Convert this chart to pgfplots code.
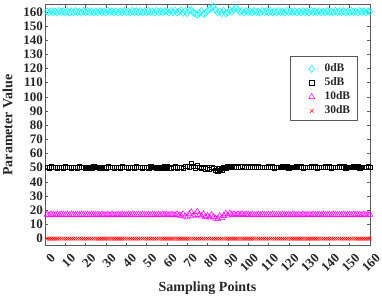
\documentclass[border=0pt]{standalone}
\usepackage{fontspec}
\setmainfont{Liberation Serif}
\usepackage{pgfplots}
\usepackage{pgfplotstable}
\pgfplotsset{compat=1.18}
\definecolor{mcyan}{rgb}{0,1,1}
\definecolor{mmag}{rgb}{1,0,1}
\definecolor{mred}{rgb}{1,0,0}
\pgfplotsset{onemark/.style={legend image code/.code={%
    \path (0cm,-0.1cm) (0.6cm,0.1cm);
    \draw[##1] plot coordinates {(0.3cm,0cm)};}}}
\pgfplotstableread{
x c0 c5 c10 c30
1 160.2 50.4 16.9 0
2 159.6 50.1 16.6 0
3 160.5 50.6 17.1 0
4 159.8 50.3 16.8 0
5 160.1 50.5 16.7 0
6 159.4 50.0 16.9 0
7 160.6 50.4 16.6 0
8 159.9 50.4 17.1 0
9 160.3 50.1 16.8 0
10 159.7 50.6 16.7 0
11 160.4 50.3 16.9 0
12 159.5 50.5 16.6 0
13 160.2 50.0 17.1 0
14 159.6 50.4 16.8 0
15 160.5 50.4 16.7 0
16 159.8 50.1 16.9 0
17 160.1 50.6 16.6 0
18 159.4 50.3 17.1 0
19 160.6 50.5 16.8 0
20 159.9 50.0 16.7 0
21 160.3 50.4 16.9 0
22 159.7 50.4 16.6 0
23 160.4 50.1 17.1 0
24 159.5 50.6 16.8 0
25 160.2 50.3 16.7 0
26 159.6 50.5 16.9 0
27 160.5 50.0 16.6 0
28 159.8 50.4 17.1 0
29 160.1 50.4 16.8 0
30 159.4 50.1 16.7 0
31 160.6 50.6 16.9 0
32 159.9 50.3 16.6 0
33 160.3 50.5 17.1 0
34 159.7 50.0 16.8 0
35 160.4 50.4 16.7 0
36 159.5 50.4 16.9 0
37 160.2 50.1 16.6 0
38 159.6 50.6 17.1 0
39 160.5 50.3 16.8 0
40 159.8 50.5 16.7 0
41 160.1 50.0 16.9 0
42 159.4 50.4 16.6 0
43 160.6 50.4 17.1 0
44 159.9 50.1 16.8 0
45 160.3 50.6 16.7 0
46 159.7 50.3 16.9 0
47 160.4 50.5 16.6 0
48 159.5 50.0 17.1 0
49 160.2 50.4 16.8 0
50 159.6 50.4 16.7 0
51 160.5 50.1 16.9 0
52 159.8 50.6 16.6 0
53 160.1 50.3 17.1 0
54 159.4 50.5 16.8 0
55 160.6 50.0 16.7 0
56 159.9 50.4 16.9 0
57 160.3 50.4 16.6 0
58 159.7 50.1 17.1 0
59 160.4 50.6 16.8 0
60 160.3 50.6 16.9 0
61 159.4 50.1 16.7 0
62 160.6 49.8 17.0 0
63 159.7 50.4 16.8 0
64 160.8 50.7 16.6 0
65 159.5 49.9 17.1 0
66 160.2 50.2 16.5 0
67 161.0 50.5 16.3 0
68 159.3 49.8 17.2 0
69 160.4 50.9 15.6 0
70 159.2 51.2 15.1 0
71 160.9 50.6 17.4 0
72 161.3 53.2 18.6 0
73 159.6 51.0 16.2 0
74 158.7 50.1 17.0 0
75 157.9 51.4 18.9 0
76 159.1 50.3 16.8 0
77 160.4 49.6 15.9 0
78 158.2 50.2 17.3 0
79 159.0 49.3 15.4 0
80 160.6 49.9 16.1 0
81 161.8 48.9 14.9 0
82 162.6 50.4 16.6 0
83 163.6 49.6 15.3 0
84 161.2 48.1 14.2 0
85 159.5 47.8 13.9 0
86 160.3 49.2 15.8 0
87 159.1 48.6 14.6 0
88 160.7 50.1 16.3 0
89 158.9 49.5 17.6 0
90 159.6 50.6 16.4 0
91 161.0 50.2 17.8 0
92 160.2 50.8 16.9 0
93 161.5 50.4 17.2 0
94 162.6 50.7 16.7 0
95 161.4 50.3 17.1 0
96 159.8 50.6 16.9 0
97 160.6 50.9 17.3 0
98 159.4 50.5 16.8 0
99 160.5 50.7 17.0 0
100 159.9 50.4 16.9 0
101 160.2 50.6 16.6 0
102 159.6 50.3 17.1 0
103 160.5 50.7 16.8 0
104 159.8 50.4 16.7 0
105 160.1 50.6 16.9 0
106 159.4 50.2 16.6 0
107 160.6 50.5 17.1 0
108 159.9 50.5 16.8 0
109 160.3 50.2 16.7 0
110 159.7 50.7 16.9 0
111 160.4 50.4 16.6 0
112 159.5 50.6 17.1 0
113 160.2 50.1 16.8 0
114 159.6 50.5 16.7 0
115 160.5 50.5 16.9 0
116 159.8 50.2 16.6 0
117 160.1 50.7 17.1 0
118 159.4 50.4 16.8 0
119 160.6 50.6 16.7 0
120 159.9 50.1 16.9 0
121 160.3 50.5 16.6 0
122 159.7 50.5 17.1 0
123 160.4 50.2 16.8 0
124 159.5 50.7 16.7 0
125 160.2 50.4 16.9 0
126 159.6 50.6 16.6 0
127 160.5 50.1 17.1 0
128 159.8 50.5 16.8 0
129 160.1 50.5 16.7 0
130 159.4 50.2 16.9 0
131 160.6 50.7 16.6 0
132 159.9 50.4 17.1 0
133 160.3 50.6 16.8 0
134 159.7 50.1 16.7 0
135 160.4 50.5 16.9 0
136 159.5 50.5 16.6 0
137 160.2 50.2 17.1 0
138 159.6 50.7 16.8 0
139 160.5 50.4 16.7 0
140 159.8 50.6 16.9 0
141 160.1 50.1 16.6 0
142 159.4 50.5 17.1 0
143 160.6 50.5 16.8 0
144 159.9 50.2 16.7 0
145 160.3 50.7 16.9 0
146 159.7 50.4 16.6 0
147 160.4 50.6 17.1 0
148 159.5 50.1 16.8 0
149 160.2 50.5 16.7 0
150 159.6 50.5 16.9 0
151 160.5 50.2 16.6 0
152 159.8 50.7 17.1 0
153 160.1 50.4 16.8 0
154 159.4 50.6 16.7 0
155 160.6 50.1 16.9 0
156 159.9 50.5 16.6 0
157 160.3 50.5 17.1 0
158 159.7 50.2 16.8 0
159 160.4 50.7 16.7 0
160 160.0 50.4 16.9 0
}\datatable
\begin{document}
\begin{tikzpicture}
\begin{axis}[
  scale only axis,
  width=325pt, height=241pt,
  xmin=0, xmax=160, ymin=-5, ymax=165,
  xtick={0,10,...,160}, ytick={0,10,...,160},
  tick align=inside,
  major tick length=3pt,
  axis line style={black!65},
  every tick/.style={black!65},
  /pgf/number format/assume math mode=true,
  ticklabel style={font=\bfseries\fontsize{13}{13}\selectfont, text=black!85},
  xticklabel style={xshift=8pt, yshift=-10pt, rotate=45, anchor=east, inner sep=0pt},
  yticklabel style={inner sep=2pt},
  xlabel={Sampling Points},
  ylabel={Parameter Value},
  label style={font=\bfseries\fontsize{14}{14}\selectfont, text=black!85},
  xlabel style={at={([yshift=-46pt]axis description cs:0.5,0)}, anchor=base},
  ylabel style={at={([xshift=-37.5pt]axis description cs:0,0.5)}, anchor=center},
  legend style={at={([xshift=-12.7pt,yshift=-53.5pt]rel axis cs:1,1)}, anchor=north east,
    draw=none, fill=none, inner xsep=5pt, inner ysep=3.5pt,
    font=\bfseries\fontsize{11.5}{11.5}\selectfont, text=black!85,
    nodes={inner sep=2pt, text height=8pt, text depth=2pt},
    column sep=2pt},
  legend cell align=left,
]
\addplot[only marks, onemark, mcyan, mark=diamond, mark size=3.6pt, line width=0.5pt] table[x=x,y=c0] {\datatable};
\addlegendentry{0dB}
\addplot[only marks, onemark, black, mark=square, mark size=2.2pt, line width=0.5pt] table[x=x,y=c5] {\datatable};
\addlegendentry{5dB}
\addplot[only marks, onemark, mmag, mark=triangle, mark size=3.5pt, line width=0.5pt] table[x=x,y=c10] {\datatable};
\addlegendentry{10dB}
\addplot[only marks, onemark, mred, mark=x, mark size=2.6pt, line width=0.5pt] table[x=x,y=c30] {\datatable};
\addlegendentry{30dB}
\draw[black!65, line width=0.5pt] ([xshift=-79.3pt,yshift=-115.3pt]rel axis cs:1,1) rectangle ([xshift=-12.7pt,yshift=-52pt]rel axis cs:1,1);
\coordinate (ll) at (rel axis cs:0,0);
\coordinate (ur) at (rel axis cs:1,1);
\end{axis}
\pgfresetboundingbox
\path ([xshift=-45pt,yshift=-50.3pt]ll) rectangle ([xshift=12pt,yshift=4.7pt]ur);
\end{tikzpicture}
\end{document}
